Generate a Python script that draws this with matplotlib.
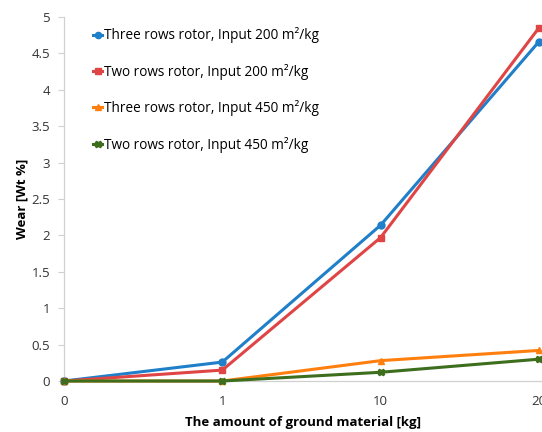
import numpy as np
import matplotlib.pyplot as plt

plt.rcParams['font.family'] = ['Open Sans', 'DejaVu Sans']

# ground material amounts (categorical axis)
amounts = ['0', '1', '10', '20']

three_rows_200 = [0.0, 0.26, 2.14, 4.66]
two_rows_200 = [0.0, 0.15, 1.97, 4.85]
three_rows_450 = [0.0, 0.0, 0.28, 0.42]
two_rows_450 = [0.0, 0.0, 0.12, 0.30]

labels = ['Three rows rotor, Input 200 m²/kg',
          'Two rows rotor, Input 200 m²/kg',
          'Three rows rotor, Input 450 m²/kg',
          'Two rows rotor, Input 450 m²/kg']

x = np.arange(len(amounts))

fig = plt.figure(figsize=(5.42, 4.32), dpi=100)
ax = fig.add_axes([0.118, 0.118, 0.882, 0.843])

ax.plot(x, three_rows_200, color='#1f7fc8', lw=2.2, marker='o', ms=5,
        label=labels[0])
ax.plot(x, two_rows_200, color='#e04545', lw=2.2, marker='s', ms=5,
        label=labels[1])
ax.plot(x, three_rows_450, color='#ff7f0e', lw=2.2, marker='^', ms=5,
        label=labels[2])
ax.plot(x, two_rows_450, color='#3c6e1e', lw=2.2, marker='X', ms=5,
        label=labels[3])

ax.set_xlim(0, 3 * 474 / 471)
ax.set_ylim(0, 5)
ax.set_xticks(x)
ax.set_xticklabels(amounts)
ax.set_yticks(np.arange(0, 5.01, 0.5))
ax.set_yticklabels(['0', '0.5', '1', '1.5', '2', '2.5', '3', '3.5', '4', '4.5', '5'])

for side in ['top', 'right']:
    ax.spines[side].set_visible(False)
for side in ['left', 'bottom']:
    ax.spines[side].set_color('#d0d0d0')
    ax.spines[side].set_linewidth(0.9)
ax.spines['left'].set_zorder(0)
ax.spines['bottom'].set_zorder(0)

ax.tick_params(axis='y', length=4, color='#d0d0d0', labelsize=9.5,
               labelcolor='#333333', pad=6)
ax.tick_params(axis='x', length=0, labelsize=9.5, labelcolor='#333333', pad=10)

ax.set_xlabel('The amount of ground material [kg]', fontsize=9.5,
              fontweight='bold', labelpad=6)
ax.set_ylabel('Wear [Wt %]', fontsize=9.5, fontweight='bold', labelpad=2)

for t in ax.get_lines():
    t.set_clip_on(False)

ax.legend(loc='upper left', bbox_to_anchor=(0.035, 1.005), frameon=False,
          fontsize=9.8, handlelength=0.7, handletextpad=0.1,
          labelspacing=1.5, markerscale=0.9)

fig.savefig('out.png', dpi=100)
